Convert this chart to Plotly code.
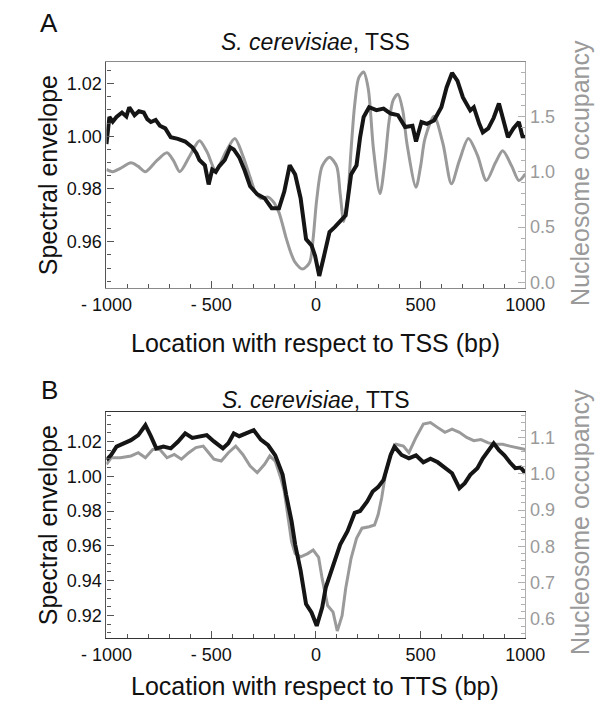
import plotly.graph_objects as go

# ---------------- data ----------------
# Panel A (TSS)
a_black_x = [-1000, -986, -970, -952, -926, -905, -891, -866, -845, -822, -805, -788, -765, -745,
             -719, -693, -659, -624, -590, -570, -556, -530, -512, -495, -478, -461, -435, -420,
             -409, -392, -366, -340, -314, -280, -245, -211, -176, -151, -125, -99, -73, -47, -21,
             -4, 16, 39, 65, 91, 116, 142, 168, 194, 211, 228, 254, 289, 323, 357, 392, 426, 461,
             478, 504, 530, 564, 599, 624, 650, 676, 702, 737, 754, 780, 797, 823, 849, 874, 891,
             917, 943, 969, 986, 1000]
a_black_y = [0.997, 1.0073, 1.0055, 1.0073, 1.009, 1.0075, 1.011, 1.008, 1.0095, 1.009, 1.0065,
             1.0054, 1.0062, 1.004, 1.003, 0.9996, 0.999, 0.998, 0.9958, 0.9935, 0.991, 0.989,
             0.9817, 0.9874, 0.9865, 0.9887, 0.991, 0.9935, 0.9958, 0.995, 0.992, 0.987, 0.981,
             0.978, 0.9765, 0.9727, 0.9727, 0.979, 0.989, 0.9855, 0.9765, 0.961, 0.9586, 0.9547,
             0.947, 0.9547, 0.9637, 0.9656, 0.9676, 0.970, 0.9855, 0.989, 0.9996, 1.0073, 1.011,
             1.0099, 1.0105, 1.0086, 1.008, 1.0035, 1.004, 0.998, 1.0054, 1.0047, 1.006, 1.011,
             1.0185, 1.024, 1.021, 1.0147, 1.0098, 1.011, 1.0047, 1.0015, 1.003, 1.007, 1.0124,
             1.007, 0.9996, 1.003, 1.0054, 1.000, 0.9996]

a_gray_x = [-1000, -969, -934, -883, -850, -814, -760, -711, -680, -650, -600, -556, -520, -478,
            -430, -387, -350, -314, -290, -263, -228, -200, -176, -142, -120, -99, -64, -30, -13,
            4, 30, 65, 99, 116, 133, 151, 168, 185, 205, 228, 250, 275, 306, 330, 349, 370, 392,
            415, 435, 478, 500, 521, 564, 607, 647, 685, 728, 771, 814, 857, 892, 935, 969, 1000]
a_gray_y = [1.02, 1.00, 1.03, 1.08, 1.05, 1.00, 1.10, 1.17, 1.10, 1.00, 1.15, 1.28, 1.18, 1.01,
            1.18, 1.30, 1.15, 0.95, 0.82, 0.76, 0.77, 0.72, 0.63, 0.40, 0.27, 0.18, 0.12, 0.18,
            0.40, 0.75, 1.05, 1.13, 1.05, 0.80, 0.55, 0.75, 1.20, 1.60, 1.85, 1.90, 1.75, 1.20,
            0.80, 1.10, 1.45, 1.65, 1.70, 1.55, 1.25, 0.86, 1.05, 1.30, 1.50, 1.25, 0.89, 1.10,
            1.30, 1.15, 0.92, 1.08, 1.19, 1.05, 0.92, 0.98]

# Panel B (TTS)
b_black_x = [-1000, -978, -952, -917, -883, -848, -814, -788, -762, -728, -693, -659, -624, -590,
             -556, -521, -487, -444, -418, -392, -366, -332, -297, -263, -228, -194, -176, -159,
             -142, -116, -99, -73, -47, -21, 4, 30, 47, 82, 116, 151, 185, 211, 245, 271, 297,
             323, 340, 357, 375, 409, 444, 478, 513, 547, 582, 616, 650, 685, 711, 737, 771, 797,
             823, 849, 874, 900, 926, 952, 978, 1000]
b_black_y = [1.0093, 1.0122, 1.017, 1.0189, 1.0207, 1.0236, 1.0293, 1.023, 1.016, 1.017, 1.016,
             1.0198, 1.0246, 1.022, 1.023, 1.0236, 1.020, 1.016, 1.019, 1.0246, 1.023, 1.0246,
             1.0265, 1.021, 1.0178, 1.012, 1.0065, 1.001, 0.9893, 0.974, 0.9607, 0.9457, 0.9265,
             0.9217, 0.914, 0.9245, 0.936, 0.9493, 0.9607, 0.9684, 0.9789, 0.980, 0.9855, 0.9912,
             0.9937, 0.9979, 1.0046, 1.0122, 1.017, 1.0122, 1.0103, 1.012, 1.008, 1.010, 1.008,
             1.0046, 1.0017, 0.9931, 0.996, 1.0008, 1.0046, 1.0103, 1.015, 1.0189, 1.015, 1.012,
             1.008, 1.0046, 1.005, 1.0017]

b_gray_x = [-1000, -978, -934, -883, -848, -814, -779, -745, -711, -676, -642, -607, -573, -538,
            -512, -487, -452, -418, -383, -349, -314, -280, -245, -220, -194, -168, -151, -133,
            -116, -99, -73, -39, -13, 13, 30, 56, 82, 102, 125, 142, 168, 194, 220, 254, 280,
            297, 314, 332, 357, 383, 418, 444, 478, 513, 547, 582, 616, 650, 685, 720, 754, 788,
            823, 857, 892, 926, 960, 1000]
b_gray_y = [1.026, 1.044, 1.044, 1.049, 1.058, 1.044, 1.067, 1.067, 1.044, 1.053, 1.040, 1.058,
            1.072, 1.076, 1.058, 1.040, 1.035, 1.058, 1.076, 1.053, 1.021, 1.003, 1.026, 1.049,
            1.035, 0.989, 0.952, 0.887, 0.813, 0.780, 0.771, 0.780, 0.790, 0.770, 0.711, 0.637,
            0.619, 0.567, 0.609, 0.683, 0.767, 0.822, 0.850, 0.854, 0.859, 0.887, 0.933, 0.998,
            1.054, 1.081, 1.076, 1.058, 1.100, 1.137, 1.141, 1.127, 1.114, 1.123, 1.114, 1.100,
            1.091, 1.094, 1.085, 1.081, 1.081, 1.076, 1.072, 1.067]

x_tickvals = [-1000, -500, 0, 500, 1000]
x_ticktext = ["- 1000", "- 500", "0", "500", "1000"]
a_left_ticks = [0.96, 0.98, 1.00, 1.02]
a_right_ticks = [0.0, 0.5, 1.0, 1.5]
b_left_ticks = [0.92, 0.94, 0.96, 0.98, 1.00, 1.02]
b_right_ticks = [0.6, 0.7, 0.8, 0.9, 1.0, 1.1]

# ---------------- figure ----------------
W, H = 611, 705
FONT = "Liberation Sans, Arial, Helvetica, sans-serif"
BLACK = "#151515"
GRAY = "#9a9a9a"
AXC = "#555555"
GAXC = "#b0b0b0"


def px(x):
    return x / W


def py(y):
    return 1 - y / H


xdom = [px(87), px(540)]
a_dom = [py(290), py(62)]
b_dom = [py(641.5), py(414)]

fig = go.Figure()
fig.add_trace(go.Scatter(x=a_gray_x, y=a_gray_y, xaxis="x", yaxis="y", mode="lines",
                         line=dict(color=GRAY, width=3, shape="spline", smoothing=0.8)))
fig.add_trace(go.Scatter(x=a_black_x, y=a_black_y, xaxis="x", yaxis="y2", mode="lines",
                         line=dict(color=BLACK, width=4)))
fig.add_trace(go.Scatter(x=b_gray_x, y=b_gray_y, xaxis="x2", yaxis="y3", mode="lines",
                         line=dict(color=GRAY, width=3)))
fig.add_trace(go.Scatter(x=b_black_x, y=b_black_y, xaxis="x2", yaxis="y4", mode="lines",
                         line=dict(color=BLACK, width=4)))


def xax(anchor, framecol):
    return dict(domain=xdom, anchor=anchor, range=[-1000, 1000], tickmode="array",
                tickvals=x_tickvals, ticktext=x_ticktext, ticks="inside", ticklen=7,
                tickcolor=AXC, showline=True, linecolor=framecol, linewidth=1.2, mirror=True,
                showgrid=False, zeroline=False, tickfont=dict(size=18, color="#111"),
                minor=dict(tickmode="linear", tick0=-1000, dtick=100, ticks="inside",
                           ticklen=4, tickcolor=AXC))


def leftax(rng, tv, fmt, mdt, overlay, anchor):
    return dict(overlaying=overlay, anchor=anchor, side="left", range=rng, tickmode="array",
                tickvals=tv, ticktext=[fmt.format(v) for v in tv], ticks="inside", ticklen=7,
                tickcolor=AXC, showline=True, linecolor=AXC, linewidth=1.2, showgrid=False,
                zeroline=False, tickfont=dict(size=18, color="#111"),
                minor=dict(tickmode="linear", tick0=0, dtick=mdt, ticks="inside", ticklen=4,
                           tickcolor=AXC))


def rightax(dom, anchor, rng, tv, fmt, mdt):
    return dict(domain=dom, anchor=anchor, side="right", range=rng, tickmode="array",
                tickvals=tv, ticktext=[fmt.format(v) for v in tv], ticks="inside", ticklen=7,
                tickcolor=GAXC, showline=True, linecolor=GAXC, linewidth=1.2, showgrid=False,
                zeroline=False, tickfont=dict(size=18, color=GRAY),
                minor=dict(tickmode="linear", tick0=0, dtick=mdt, ticks="inside", ticklen=4,
                           tickcolor=GAXC))


fig.update_layout(
    width=W, height=H, margin=dict(l=0, r=0, t=0, b=0),
    paper_bgcolor="white", plot_bgcolor="white", showlegend=False,
    font=dict(family=FONT, color="#111"),
    xaxis=xax("y", "#8a8a8a"),
    yaxis=rightax(a_dom, "x", [-0.054, 1.994], a_right_ticks, "{:.1f}", 0.1),
    yaxis2=leftax([0.9423, 1.0283], a_left_ticks, "{:.2f}", 0.005, "y", "x"),
    xaxis2=xax("y3", "#333333"),
    yaxis3=rightax(b_dom, "x2", [0.548, 1.171], b_right_ticks, "{:.1f}", 0.02),
    yaxis4=leftax([0.9071, 1.0371], b_left_ticks, "{:.2f}", 0.005, "y3", "x2"),
)

ann = [
    dict(text="A", x=px(25), y=py(23), size=26, color="#111", angle=0),
    dict(text="B", x=px(25), y=py(392), size=26, color="#111", angle=0),
    dict(text="<i>S. cerevisiae</i>, TSS", x=px(313), y=py(42), size=23, color="#111", angle=0),
    dict(text="<i>S. cerevisiae</i>, TTS", x=px(313), y=py(402), size=23, color="#111", angle=0),
    dict(text="Location with respect to TSS (bp)", x=px(313), y=py(345), size=25, color="#111", angle=0),
    dict(text="Location with respect to TTS (bp)", x=px(313), y=py(690), size=25, color="#111", angle=0),
    dict(text="Spectral envelope", x=px(24), y=py(176), size=25, color="#111", angle=-90),
    dict(text="Spectral envelope", x=px(24), y=py(528), size=25, color="#111", angle=-90),
    dict(text="Nucleosome occupancy", x=px(599), y=py(174), size=25, color=GRAY, angle=-90),
    dict(text="Nucleosome occupancy", x=px(599), y=py(525), size=25, color=GRAY, angle=-90),
]
for a in ann:
    fig.add_annotation(text=a["text"], x=a["x"], y=a["y"], xref="paper", yref="paper",
                       xanchor="center", yanchor="middle", showarrow=False,
                       textangle=a["angle"], font=dict(family=FONT, size=a["size"], color=a["color"]))

fig.write_html("out.html")
